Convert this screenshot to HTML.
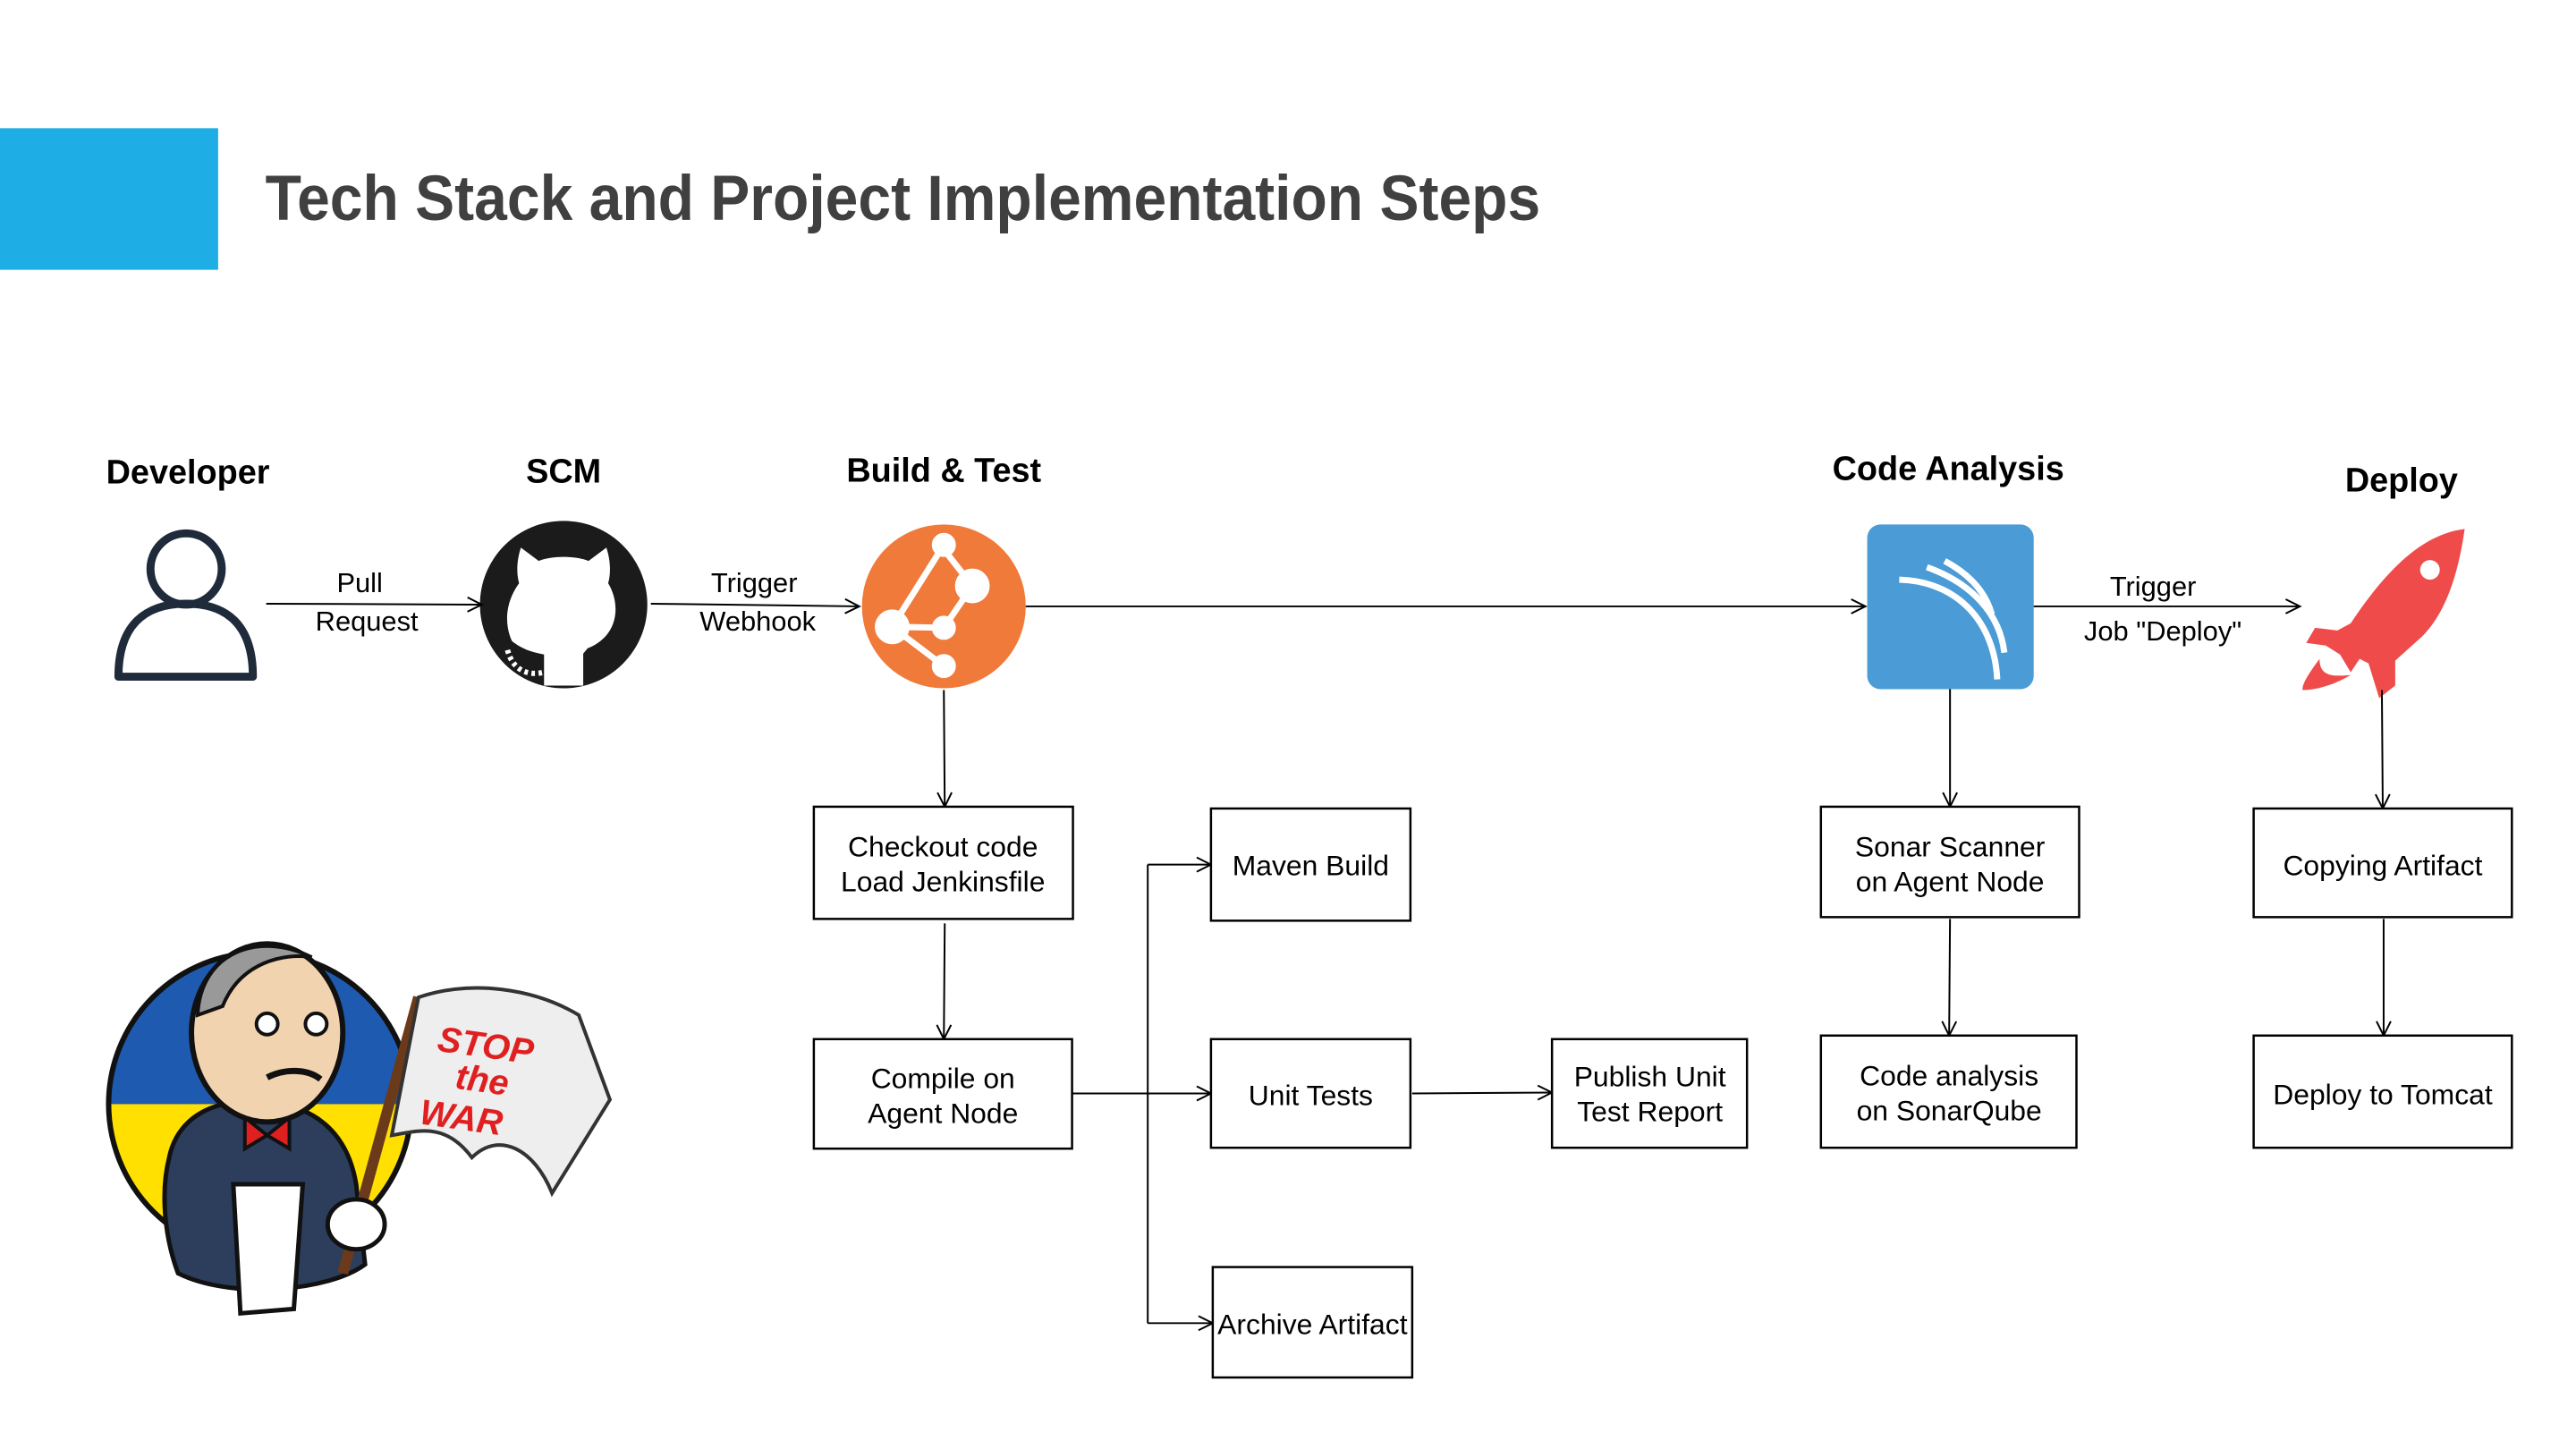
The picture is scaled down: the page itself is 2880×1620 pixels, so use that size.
<!DOCTYPE html>
<html><head><meta charset="utf-8"><style>
html,body{margin:0;padding:0;background:#fff;}
svg{display:block;}
text{font-family:"Liberation Sans",sans-serif;}
</style></head><body>
<svg width="2880" height="1620" viewBox="0 0 2880 1620" xmlns="http://www.w3.org/2000/svg">
<defs>
<marker id="a" markerWidth="20" markerHeight="20" refX="18" refY="10" orient="auto" markerUnits="userSpaceOnUse">
<path d="M2,2 L18,10 L2,18" fill="none" stroke="#000" stroke-width="2"/>
</marker>
<clipPath id="c"><circle cx="292" cy="1240" r="170"/></clipPath>
</defs>
<g transform="scale(0.9955)">
<rect x="0" y="144" width="245" height="159" fill="#1EADE4"/>
<text x="298" y="247" font-size="72" font-weight="bold" fill="#404040" textLength="1432" lengthAdjust="spacingAndGlyphs">Tech Stack and Project Implementation Steps</text>

<g font-size="38" font-weight="bold" text-anchor="middle" fill="#000">
<text x="211" y="543">Developer</text>
<text x="633" y="542">SCM</text>
<text x="1060" y="541">Build &amp; Test</text>
<text x="2188" y="539">Code Analysis</text>
<text x="2697" y="552">Deploy</text>
</g>

<circle cx="209" cy="639" r="40" fill="none" stroke="#1f2a3a" stroke-width="9"/>
<path d="M133,760 C133,700 165,678 209,678 C253,678 284,700 284,760 Z" fill="none" stroke="#1f2a3a" stroke-width="9" stroke-linejoin="round"/>

<circle cx="633" cy="679" r="94" fill="#1b1b1b"/>
<path d="M585,615 L605,630 C620,624 646,624 661,630 L681,615 C686,630 686,645 683,655 C698,680 694,715 660,728 L655,734 L655,770 L611,770 L611,735 C595,732 585,728 575,720 C568,705 565,680 583,655 C580,645 580,630 585,615 Z" fill="#fff"/>
<path d="M570,730 C575,750 590,760 611,755" fill="none" stroke="#fff" stroke-width="6" stroke-dasharray="4 4"/>

<circle cx="1060" cy="681" r="92" fill="#F07A3A"/>
<g stroke="#fff" stroke-width="7" fill="#fff">
<line x1="1060" y1="617" x2="1092" y2="658"/>
<line x1="1092" y1="658" x2="1060" y2="705"/>
<line x1="1060" y1="705" x2="1002" y2="704"/>
<line x1="1002" y1="704" x2="1060" y2="612"/>
<line x1="1002" y1="704" x2="1060" y2="748"/>
<circle cx="1060" cy="612" r="10"/><circle cx="1092" cy="658" r="16"/><circle cx="1060" cy="705" r="10"/><circle cx="1002" cy="704" r="16"/><circle cx="1060" cy="748" r="10"/>
</g>

<rect x="2097" y="589" width="187" height="185" rx="15" fill="#4B9BD6"/>
<g fill="none" stroke="#fff" stroke-width="7">
<path d="M2133,651 C2200,653 2240,700 2243,763"/>
<path d="M2164,637 C2215,655 2246,690 2251,733"/>
<path d="M2184,630 C2212,645 2230,665 2237,690"/>
</g>

<g fill="#F04B4B">
<path d="M2768,594 C2760,650 2745,690 2720,715 L2690,742 L2690,770 L2672,784 L2660,745 L2650,740 L2640,755 L2628,735 L2612,725 L2590,722 L2600,705 L2625,708 L2640,700 C2680,640 2720,600 2768,594 Z"/>
<path d="M2605,740 C2590,760 2585,770 2586,775 C2600,775 2620,770 2640,758 C2620,760 2605,760 2605,740 Z"/>
</g>
<circle cx="2729" cy="640" r="11" fill="#fff"/>

<g stroke="#000" stroke-width="2" fill="none">
<line x1="299" y1="678" x2="541" y2="679" marker-end="url(#a)"/>
<line x1="731" y1="678" x2="965" y2="681" marker-end="url(#a)"/>
<line x1="1152" y1="681" x2="2095" y2="681" marker-end="url(#a)"/>
<line x1="2284" y1="681" x2="2583" y2="681" marker-end="url(#a)"/>
<line x1="1060" y1="775" x2="1061" y2="906" marker-end="url(#a)"/>
<line x1="1061" y1="1037" x2="1060" y2="1167" marker-end="url(#a)"/>
<line x1="1204" y1="1228" x2="1360" y2="1228" marker-end="url(#a)"/>
<line x1="1289" y1="971" x2="1289" y2="1486"/>
<line x1="1289" y1="971" x2="1360" y2="971" marker-end="url(#a)"/>
<line x1="1289" y1="1486" x2="1362" y2="1486" marker-end="url(#a)"/>
<line x1="1586" y1="1228" x2="1743" y2="1227" marker-end="url(#a)"/>
<line x1="2190" y1="774" x2="2190" y2="906" marker-end="url(#a)"/>
<line x1="2190" y1="1032" x2="2189" y2="1163" marker-end="url(#a)"/>
<line x1="2675" y1="775" x2="2676" y2="908" marker-end="url(#a)"/>
<line x1="2677" y1="1032" x2="2677" y2="1163" marker-end="url(#a)"/>
</g>

<g font-size="31" fill="#000" text-anchor="middle">
<text x="404" y="665">Pull</text>
<text x="412" y="708">Request</text>
<text x="847" y="665">Trigger</text>
<text x="851" y="708">Webhook</text>
<text x="2418" y="669">Trigger</text>
<text x="2429" y="719">Job "Deploy"</text>
</g>

<g stroke="#000" stroke-width="2.5" fill="#fff">
<rect x="914" y="906" width="291" height="126"/>
<rect x="914" y="1167" width="290" height="123"/>
<rect x="1360" y="908" width="224" height="126"/>
<rect x="1360" y="1167" width="224" height="122"/>
<rect x="1362" y="1423" width="224" height="124"/>
<rect x="1743" y="1167" width="219" height="122"/>
<rect x="2045" y="906" width="290" height="124"/>
<rect x="2045" y="1163" width="287" height="126"/>
<rect x="2531" y="908" width="290" height="122"/>
<rect x="2531" y="1163" width="290" height="126"/>
</g>
<g font-size="32" fill="#000" text-anchor="middle">
<text x="1059" y="962">Checkout code</text>
<text x="1059" y="1001">Load Jenkinsfile</text>
<text x="1059" y="1222">Compile on</text>
<text x="1059" y="1261">Agent Node</text>
<text x="1472" y="983">Maven Build</text>
<text x="1472" y="1241">Unit Tests</text>
<text x="1474" y="1498">Archive Artifact</text>
<text x="1853" y="1220">Publish Unit</text>
<text x="1853" y="1259">Test Report</text>
<text x="2190" y="962">Sonar Scanner</text>
<text x="2190" y="1001">on Agent Node</text>
<text x="2189" y="1219">Code analysis</text>
<text x="2189" y="1258">on SonarQube</text>
<text x="2676" y="983">Copying Artifact</text>
<text x="2676" y="1240">Deploy to Tomcat</text>
</g>

<g clip-path="url(#c)">
<rect x="120" y="1060" width="350" height="200" fill="#1E5BB0"/>
<rect x="120" y="1240" width="350" height="200" fill="#FFE000"/>
</g>
<circle cx="292" cy="1240" r="170" fill="none" stroke="#111" stroke-width="6"/>
<path d="M190,1300 C200,1250 250,1230 300,1240 C350,1240 390,1270 400,1330 L410,1420 C370,1450 260,1460 200,1430 C185,1390 180,1340 190,1300 Z" fill="#2C3E5C" stroke="#111" stroke-width="5"/>
<path d="M262,1330 L340,1330 L330,1470 L270,1475 Z" fill="#fff" stroke="#111" stroke-width="5"/>
<path d="M275,1255 L300,1275 L325,1255 L325,1290 L300,1275 L275,1290 Z" fill="#E02020" stroke="#111" stroke-width="4"/>
<ellipse cx="300" cy="1160" rx="85" ry="100" fill="#F2D3B0" stroke="#111" stroke-width="6"/>
<path d="M222,1140 C225,1070 290,1045 350,1075 C320,1070 270,1080 250,1130 Z" fill="#999" stroke="#111" stroke-width="4"/>
<circle cx="300" cy="1150" r="12" fill="#fff" stroke="#111" stroke-width="4"/>
<circle cx="355" cy="1150" r="12" fill="#fff" stroke="#111" stroke-width="4"/>
<path d="M300,1210 C320,1200 345,1200 360,1212" fill="none" stroke="#111" stroke-width="7"/>
<line x1="385" y1="1430" x2="470" y2="1120" stroke="#6B3A1A" stroke-width="12"/>
<path d="M470,1120 C530,1100 600,1110 650,1140 L685,1235 L620,1340 C600,1290 560,1270 530,1300 C500,1260 470,1270 440,1275 Z" fill="#eee" stroke="#333" stroke-width="4"/>
<g font-weight="bold" fill="#E02020" font-size="40" font-style="italic">
<text x="490" y="1180" transform="rotate(8 490 1180)">STOP</text>
<text x="510" y="1222" transform="rotate(8 510 1222)">the</text>
<text x="470" y="1262" transform="rotate(8 470 1262)">WAR</text>
</g>
<ellipse cx="400" cy="1375" rx="32" ry="28" fill="#fff" stroke="#111" stroke-width="5"/>
</g>
</svg>
</body></html>
